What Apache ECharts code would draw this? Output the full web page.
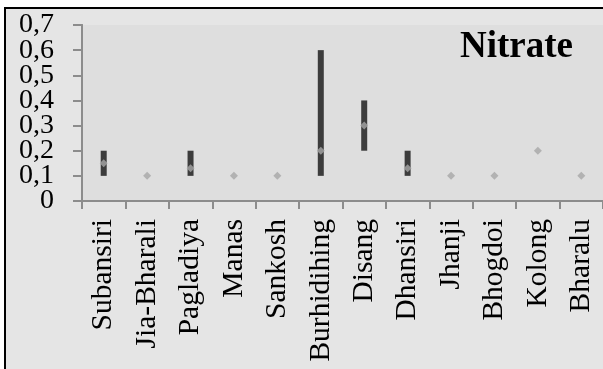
<!DOCTYPE html>
<html>
<head>
<meta charset="utf-8">
<style>
  html, body { margin: 0; padding: 0; background: #ffffff; }
  #chart { width: 603px; height: 369px; }
</style>
<script src="https://cdn.jsdelivr.net/npm/echarts@6/dist/echarts.min.js"></script>
</head>
<body>
<div id="chart"></div>
<script>
// Nitrate concentration by river: range (min–max) and mean
const rivers = ['Subansiri', 'Jia-Bharali', 'Pagladiya', 'Manas', 'Sankosh', 'Burhidihing',
                'Disang', 'Dhansiri', 'Jhanji', 'Bhogdoi', 'Kolong', 'Bharalu'];
const minValues  = [0.1, 0.1, 0.1, 0.1, 0.1, 0.1, 0.2, 0.1, 0.1, 0.1, 0.2, 0.1];
const maxValues  = [0.2, 0.1, 0.2, 0.1, 0.1, 0.6, 0.4, 0.2, 0.1, 0.1, 0.2, 0.1];
const meanValues = [0.15, 0.1, 0.13, 0.1, 0.1, 0.2, 0.3, 0.13, 0.1, 0.1, 0.2, 0.1];
const yTicks = { min: 0, max: 0.7, step: 0.1 };

const spans = maxValues.map((v, i) => +(v - minValues[i]).toFixed(3));
const serif = '"Liberation Serif", "Times New Roman", serif';
const axisGray = '#8c8c8c';
const fmt = v => (v === 0 ? '0' : v.toFixed(1).replace('.', ','));
const isEnd = v => Math.abs(v - yTicks.min) < 1e-9 || Math.abs(v - yTicks.max) < 1e-9;

// The tall serif labels overlap their neighbours, so the inner labels and the
// two end labels are drawn by two coincident value axes.
function valueAxis(showEnds) {
  return {
    type: 'value',
    position: 'left',
    min: yTicks.min, max: yTicks.max, interval: yTicks.step,
    axisLine: { show: true, lineStyle: { color: axisGray, width: 2 } },
    axisTick: { show: true, inside: false, length: 9, lineStyle: { color: axisGray, width: 2 } },
    axisLabel: {
      margin: 28, fontFamily: serif, fontSize: 28, color: '#000000',
      showMinLabel: showEnds ? true : undefined,
      showMaxLabel: showEnds ? true : undefined,
      formatter: v => (showEnds === isEnd(v) ? fmt(v) : '')
    },
    splitLine: { show: false }
  };
}

const chart = echarts.init(document.getElementById('chart'), null, { renderer: 'canvas' });
chart.setOption({
  animation: false,
  backgroundColor: '#ffffff',
  graphic: [{
    type: 'rect',
    z: -10,
    shape: { x: 5, y: 8, width: 700, height: 500 },
    style: { fill: '#e5e5e5', stroke: '#000000', lineWidth: 2 }
  }],
  title: {
    text: 'Nitrate',
    right: 30,
    top: 29,
    padding: 0,
    textStyle: { fontFamily: serif, fontSize: 37, fontWeight: 'bold', color: '#000000' }
  },
  grid: {
    left: 82, top: 25, width: 525, height: 176,
    show: true, backgroundColor: '#dedede', borderWidth: 0
  },
  xAxis: {
    type: 'category',
    data: rivers,
    boundaryGap: true,
    axisLine: { show: true, lineStyle: { color: axisGray, width: 2 } },
    axisTick: { show: true, inside: false, interval: 0, length: 8, lineStyle: { color: axisGray, width: 2 } },
    axisLabel: {
      rotate: 90, margin: 18, interval: 0,
      fontFamily: serif, fontSize: 29.5, color: '#000000'
    },
    splitLine: { show: false }
  },
  yAxis: [valueAxis(false), valueAxis(true)],
  series: [
    {
      type: 'bar', stack: 'range', data: minValues, barWidth: 6,
      itemStyle: { color: 'transparent' }, silent: true
    },
    {
      type: 'bar', stack: 'range', data: spans, barWidth: 6,
      itemStyle: { color: '#3c3c3c' }
    },
    {
      type: 'scatter', data: meanValues, symbol: 'diamond', symbolSize: 8,
      itemStyle: { color: '#a6a6a6' }, z: 5
    }
  ]
});
</script>
</body>
</html>
